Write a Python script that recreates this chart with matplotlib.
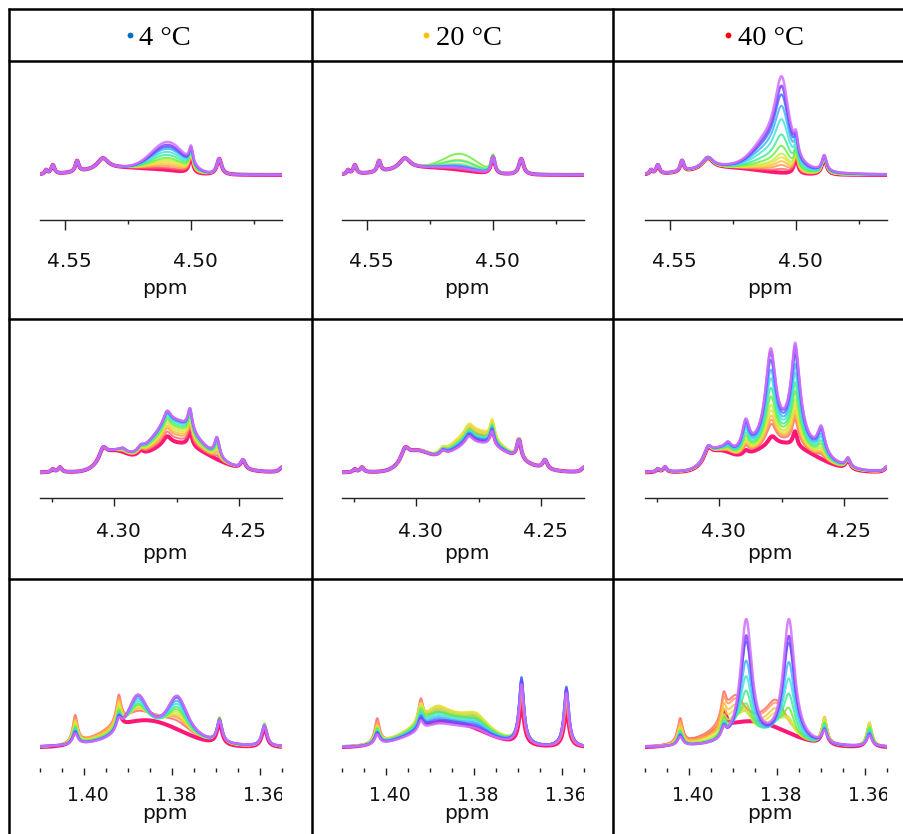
import numpy as np
import matplotlib
matplotlib.use("Agg")
import matplotlib.pyplot as plt
from matplotlib.lines import Line2D
from matplotlib import transforms
from matplotlib.transforms import Bbox, TransformedBbox

# ---------------- data ----------------
TEMPS = ["4 °C", "20 °C", "40 °C"]
TEMP_DOT_COLORS = ["#0070c0", "#ffc000", "#ff0000"]

# 13 spectra per panel, first (thick pink) to last (light violet)
TRACE_COLORS = ["#ff0a6e", "#ff6a6a", "#ff9a50", "#ffc040", "#eee040", "#c0f040",
                "#70ee40", "#40ee90", "#40e6d8", "#40b4ff", "#4070ff", "#8040ff", "#d070ff"]

ROW_XLIM = [(4.5599, 4.4639), (4.3296, 4.2328), (1.4100, 1.3550)]
ROW_MAJOR = [[4.55, 4.50], [4.30, 4.25], [1.40, 1.38, 1.36]]
ROW_MINOR = [[4.525, 4.475], [4.325, 4.275],
             [1.41, 1.405, 1.395, 1.39, 1.385, 1.375, 1.37, 1.365, 1.355]]
ROW_LABELS = [["4.55", "4.50"], ["4.30", "4.25"], ["1.40", "1.38", "1.36"]]

# peaks: (shape, centre ppm, half width ppm, relative height)
R1_BASE = [("L", 4.5575, 0.0006, 4), ("L", 4.5548, 0.0008, 9), ("L", 4.5452, 0.0008, 11),
           ("L", 4.5350, 0.0026, 11), ("G", 4.5270, 0.0130, 7), ("L", 4.5000, 0.0009, 17),
           ("L", 4.4888, 0.0011, 16)]
R1C1_HUMP_PEAKS = [("G", 4.5090, 0.0065, 1.0)]
R1C1_HUMP = [2, 4, 6, 8, 10, 12, 14, 17, 20, 23, 25, 27, 30]
R1C2_HUMP_PEAKS = [("G", 4.5127, 0.0065, 1.0)]
R1C2_HUMP = [1, 2, 3, 4, 7, 11, 17, 10, 6, 5, 4, 3, 3]
R1C3_PEAK_PEAKS = [("L", 4.5056, 0.0036, 0.85), ("G", 4.5120, 0.0055, 0.20)]
R1C3_PEAK = [0, 4, 8, 12, 16, 20, 28, 40, 56, 70, 82, 91, 101]

R2_BASE = [("L", 4.3245, 0.0007, 3), ("L", 4.3216, 0.0009, 5), ("G", 4.3000, 0.0050, 16),
           ("L", 4.3044, 0.0018, 12), ("G", 4.2750, 0.0130, 28), ("L", 4.2893, 0.0015, 5),
           ("L", 4.2788, 0.0020, 9), ("L", 4.2696, 0.0010, 15), ("L", 4.2484, 0.0011, 9),
           ("L", 4.2328, 0.0012, 5)]
R2C1_GROW_PEAKS = [("G", 4.2760, 0.0080, 1.0), ("L", 4.2696, 0.0012, 0.3),
                   ("L", 4.2788, 0.0015, 0.2), ("L", 4.2588, 0.0012, 0.9),
                   ("L", 4.2964, 0.0015, 0.15)]
R2C1_GROW = [0, 4, 7, 9, 11, 13, 15, 17, 19, 20, 21, 22, 22]
R2C2_EXTRA = [("L", 4.2588, 0.0010, 20)]
R2C2_GROW_PEAKS = [("G", 4.2770, 0.0080, 1.0), ("L", 4.2690, 0.0010, 0.4)]
R2C2_GROW = [2, 8, 10, 12, 13, 10, 7, 6, 5, 4, 3, 1, 0]
R2C3_GROW_PEAKS = [("L", 4.2794, 0.0025, 1.0), ("L", 4.2694, 0.0025, 1.0),
                   ("L", 4.2591, 0.0018, 0.33), ("L", 4.2893, 0.0018, 0.30),
                   ("L", 4.2964, 0.0015, 0.08)]
R2C3_GROW = [0, 12, 16, 20, 25, 30, 38, 46, 55, 63, 72, 80, 83]

R3_SHARP_L_PEAKS = [("L", 1.4020, 0.0007, 1.0), ("L", 1.3921, 0.0007, 1.0)]
R3_SHARP_R_PEAKS = [("L", 1.3692, 0.0007, 1.0), ("L", 1.3590, 0.0007, 0.9)]
R3_HUMP_PEAKS = [("G", 1.3860, 0.0080, 1.0)]

R3C1_HUMP = [27, 30, 28, 24, 20, 17, 14, 11, 9, 7, 5, 4, 3]
R3C1_DOUBLET_PEAKS = [("L", 1.3878, 0.0030, 1.0), ("L", 1.3788, 0.0030, 1.0)]
R3C1_DOUBLET = [0, 6, 10, 14, 18, 22, 26, 30, 34, 38, 42, 44, 45]
R3C1_SHARP_L = [15, 28, 25, 23, 22, 20, 18, 16, 15, 14, 13, 12, 11]
R3C1_SHARP_R = [22, 24, 25, 26, 26, 25, 25, 24, 24, 23, 23, 22, 22]

R3C2_HUMP = [26, 27, 28, 28, 28, 27, 26, 25, 24, 23, 22, 21, 20]
R3C2_DOUBLET_PEAKS = [("L", 1.3885, 0.0030, 1.0), ("L", 1.3795, 0.0032, 1.0)]
R3C2_DOUBLET = [0, 8, 10, 12, 13, 12, 10, 9, 8, 7, 6, 5, 4]
R3C2_SHARP_L = [14, 25, 20, 18, 17, 16, 15, 14, 13, 12, 12, 11, 10]
R3C2_SHARP_R = [40, 45, 50, 55, 58, 60, 62, 64, 65, 66, 67, 64, 60]

R3C3_HUMP = [26, 20, 18, 14, 11, 8, 6, 4, 3, 2, 2, 1, 0]
R3C3_BROAD_PEAKS = [("L", 1.3895, 0.0025, 1.0), ("L", 1.3802, 0.0028, 1.0)]
R3C3_BROAD = [0, 30, 28, 25, 22, 18, 14, 10, 7, 4, 2, 0, 0]
R3C3_NARROW_PEAKS = [("L", 1.3870, 0.0016, 1.0), ("L", 1.3773, 0.0016, 1.0)]
R3C3_NARROW = [0, 0, 3, 6, 10, 16, 28, 45, 62, 80, 100, 108, 125]
R3C3_SHARP_L = [18, 25, 22, 20, 18, 16, 15, 14, 13, 12, 11, 10, 9]
R3C3_SHARP_R = [20, 24, 26, 27, 26, 25, 22, 20, 18, 16, 14, 13, 12]

PANELS = {
    (0, 0): [(R1_BASE, None), (R1C1_HUMP_PEAKS, R1C1_HUMP)],
    (0, 1): [(R1_BASE, None), (R1C2_HUMP_PEAKS, R1C2_HUMP)],
    (0, 2): [(R1_BASE, None), (R1C3_PEAK_PEAKS, R1C3_PEAK)],
    (1, 0): [(R2_BASE, None), (R2C1_GROW_PEAKS, R2C1_GROW)],
    (1, 1): [(R2_BASE, None), (R2C2_EXTRA, None), (R2C2_GROW_PEAKS, R2C2_GROW)],
    (1, 2): [(R2_BASE, None), (R2C3_GROW_PEAKS, R2C3_GROW)],
    (2, 0): [(R3_HUMP_PEAKS, R3C1_HUMP), (R3C1_DOUBLET_PEAKS, R3C1_DOUBLET),
             (R3_SHARP_L_PEAKS, R3C1_SHARP_L), (R3_SHARP_R_PEAKS, R3C1_SHARP_R)],
    (2, 1): [(R3_HUMP_PEAKS, R3C2_HUMP), (R3C2_DOUBLET_PEAKS, R3C2_DOUBLET),
             (R3_SHARP_L_PEAKS, R3C2_SHARP_L), (R3_SHARP_R_PEAKS, R3C2_SHARP_R)],
    (2, 2): [(R3_HUMP_PEAKS, R3C3_HUMP), (R3C3_BROAD_PEAKS, R3C3_BROAD),
             (R3C3_NARROW_PEAKS, R3C3_NARROW),
             (R3_SHARP_L_PEAKS, R3C3_SHARP_L), (R3_SHARP_R_PEAKS, R3C3_SHARP_R)],
}

# ---------------- layout ----------------
W, H, DPI = 904, 834, 100
COL_LEFT_PX = [40, 342, 645]
AX_W_PX = 242
ROW_AX_PX = [(68, 220), (328, 498.5), (590, 768)]
ROW_YLIM = [(-45, 107), (-26, 144.5), (-20.5, 157.5)]
ROW_LABEL_BASE = [267, 537, 801]
ROW_PPM_BASE = [294, 559, 819]
ROW_FS = [14.5, 14.5, 13.5]
ROW_MAJ_LEN = [7.0, 5.8, 5.0]
ROW_MIN_LEN = [3.0, 3.0, 3.0]


def fx(x):
    return x / W


def fy(y):
    return 1 - y / H


def shape(x, kind, c, w):
    if kind == "L":
        return 1.0 / (1.0 + ((x - c) / w) ** 2)
    return np.exp(-0.5 * ((x - c) / w) ** 2)


def spectrum(x, comps, k):
    y = np.zeros_like(x)
    for peaks, scale in comps:
        s = 1.0 if scale is None else scale[k]
        for kind, c, w, h in peaks:
            y += s * h * shape(x, kind, c, w)
    return y


fig = plt.figure(figsize=(W / DPI, H / DPI), dpi=DPI)

# table grid
for xv in [9, 312, 613]:
    fig.add_artist(Line2D([fx(xv), fx(xv)], [fy(8), fy(H + 5)], color="black",
                          lw=1.8, transform=fig.transFigure, solid_capstyle="butt"))
for yv in [9, 61, 319, 579]:
    fig.add_artist(Line2D([fx(8), fx(W + 5)], [fy(yv), fy(yv)], color="black",
                          lw=1.8, transform=fig.transFigure, solid_capstyle="butt"))

# header
DOT_X = [130, 426, 728]
TXT_X = [139, 436, 738]
for i in range(3):
    fig.add_artist(Line2D([fx(DOT_X[i])], [fy(35)], marker="o", ms=4.2, mec="none",
                          mfc=TEMP_DOT_COLORS[i], transform=fig.transFigure))
    fig.text(fx(TXT_X[i]), fy(45), TEMPS[i], family="Liberation Serif", fontsize=20.5,
             ha="left", va="baseline", color="black")

off = transforms.ScaledTranslation(4 / DPI, 0, fig.dpi_scale_trans)

for r in range(3):
    top, bot = ROW_AX_PX[r]
    for c in range(3):
        left = COL_LEFT_PX[c]
        ax = fig.add_axes([fx(left), fy(bot), AX_W_PX / W, (bot - top) / H])
        ax.patch.set_alpha(0)
        xlim = ROW_XLIM[r]
        x = np.linspace(xlim[0], xlim[1], 2500)
        comps = PANELS[(r, c)]
        for k in range(len(TRACE_COLORS)):
            y = spectrum(x, comps, k)
            if k == 0:
                lw, al = 2.9, 0.95
            elif k >= len(TRACE_COLORS) - 2:
                lw, al = 1.8, 0.85
            else:
                lw, al = 1.45, 0.85
            ax.plot(x, y, color=TRACE_COLORS[k], lw=lw, alpha=al,
                    solid_joinstyle="round", zorder=2 + k * 0.01)
        ax.set_xlim(xlim)
        ax.set_ylim(ROW_YLIM[r])
        ax.set_yticks([])
        ax.set_xticks(ROW_MAJOR[r])
        ax.set_xticks(ROW_MINOR[r], minor=True)
        ax.tick_params(axis="x", which="major", direction="out", length=ROW_MAJ_LEN[r],
                       width=1.0, color="#222222", labelbottom=False)
        ax.tick_params(axis="x", which="minor", direction="out", length=ROW_MIN_LEN[r],
                       width=1.0, color="#222222")
        for s in ["top", "left", "right"]:
            ax.spines[s].set_visible(False)
        if r == 2:
            ax.spines["bottom"].set_visible(False)
        else:
            ax.spines["bottom"].set_linewidth(1.0)
            ax.spines["bottom"].set_color("#222222")

        tr = transforms.blended_transform_factory(ax.transData, fig.transFigure) + off
        clip = TransformedBbox(Bbox([[0, 0], [1, 1]]),
                               transforms.blended_transform_factory(ax.transAxes, fig.transFigure))
        for v, s in zip(ROW_MAJOR[r], ROW_LABELS[r]):
            t = fig.text(v, fy(ROW_LABEL_BASE[r]), s, transform=tr, ha="center",
                         va="baseline", fontsize=ROW_FS[r], family="DejaVu Sans",
                         color="#111111")
            t.set_clip_box(clip)
            t.set_clip_on(True)
        trp = transforms.blended_transform_factory(ax.transAxes, fig.transFigure) + off
        fig.text(0.5, fy(ROW_PPM_BASE[r]), "ppm", transform=trp, ha="center",
                 va="baseline", fontsize=14.5, family="DejaVu Sans", color="#111111")

fig.savefig("out.png", dpi=DPI)
